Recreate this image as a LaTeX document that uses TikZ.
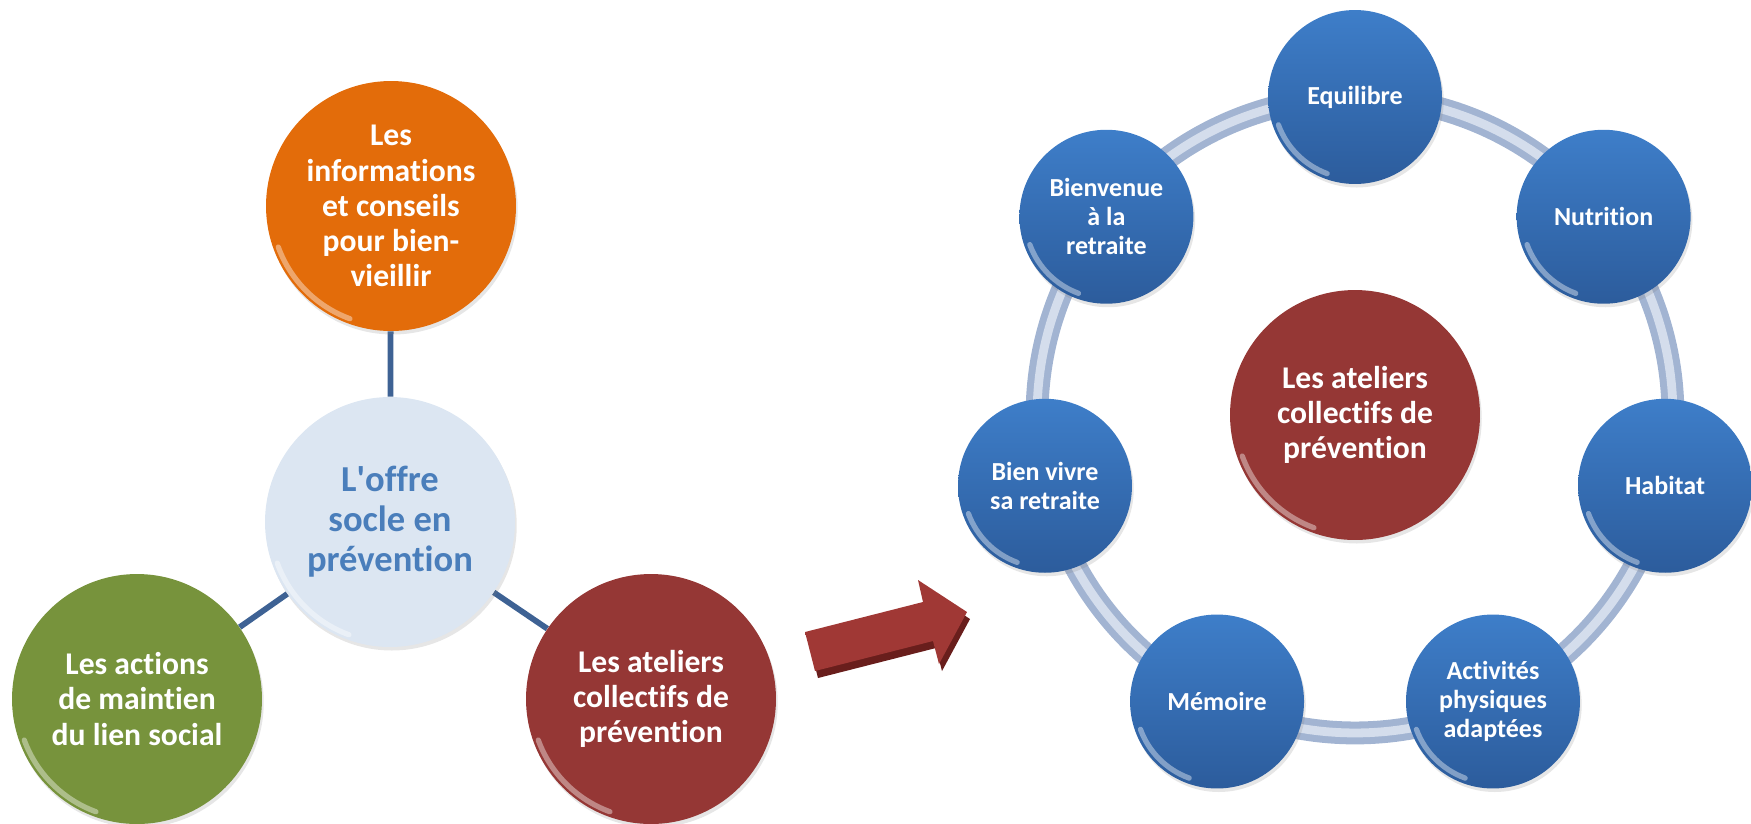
\documentclass[tikz,border=0pt]{standalone}
\usepackage{fontspec}
\setmainfont{Carlito}[Ligatures={NoCommon}]
\usetikzlibrary{calc, backgrounds, shadows}

\definecolor{orangeInfo}{RGB}{227,108,10}
\definecolor{vertLien}{RGB}{119,147,60}
\definecolor{rougeAtelier}{RGB}{149,55,53}
\definecolor{fondSocle}{RGB}{220,230,242}
\definecolor{texteSocle}{RGB}{74,126,187}
\definecolor{bleuLien}{RGB}{62,98,148}
\definecolor{bleuHaut}{RGB}{62,126,201}
\definecolor{bleuBas}{RGB}{44,92,156}
\definecolor{anneauFonce}{RGB}{162,180,210}
\definecolor{anneauClair}{RGB}{212,221,236}
\definecolor{flecheClair}{RGB}{196,86,82}
\definecolor{flecheFonce}{RGB}{160,56,53}
\definecolor{flecheOmbre}{RGB}{105,30,28}

\begin{document}
\begin{tikzpicture}[
    x=0.02cm, y=-0.02cm, % 1 unite = 1 pixel, y vers le bas
    every node/.style={align=center, text=white},
    bulle/.style={circle, minimum size=5cm, inner sep=0pt,
        font=\fontsize{18}{20}\selectfont\bfseries,
        drop shadow={opacity=0.2, shadow xshift=1pt, shadow yshift=-2pt}}, % grands cercles
    socle/.style={bulle, fill=fondSocle, text=texteSocle,
        font=\fontsize{20.8}{22.8}\selectfont\bfseries},
    theme/.style={circle, minimum size=3.48cm, inner sep=0pt,
        top color=bleuHaut, bottom color=bleuBas,
        font=\fontsize{14.8}{16.5}\selectfont\bfseries,
        drop shadow={opacity=0.2, shadow xshift=1pt, shadow yshift=-2pt}}, % ateliers bleus
    lien/.style={bleuLien, line width=3.3pt},
    anneau/.style={anneauFonce, line width=13pt},
    anneaureflet/.style={anneauClair, line width=5pt},
    reflet/.style={white, opacity=0.4, line width=3pt, line cap=round}
]
    \useasboundingbox (0,0) rectangle (1751,823);

    % 1. Offre socle (partie gauche)
    \node[socle] (offre) at (390,522) {L\textquotesingle offre\\socle en\\prévention};
    \node[bulle, fill=orangeInfo] (infos) at (391,206) {Les\\informations\\et conseils\\pour bien-\\vieillir};
    \node[bulle, fill=vertLien] (actions) at (137,699) {Les actions\\de maintien\\du lien social};
    \node[bulle, fill=rougeAtelier] (ateliers) at (651,699) {Les ateliers\\collectifs de\\prévention};

    % liens derriere les cercles
    \begin{scope}[on background layer]
        \foreach \n in {infos, actions, ateliers} {
            \draw[lien] (offre) -- (\n);
        }
    \end{scope}

    % 2. Fleche 3D
    \begin{scope}[shift={(3,7)}]
        \fill[flecheOmbre] (805,632) -- (923,602) -- (918,580) -- (967,612) -- (939,664) -- (933,641) -- (815,671) -- cycle;
    \end{scope}
    \shade[top color=flecheFonce, middle color=flecheClair, bottom color=flecheFonce]
        (805,632) -- (923,602) -- (918,580) -- (967,612) -- (939,664) -- (933,641) -- (815,671) -- cycle;

    % 3. Anneau des ateliers (partie droite)
    \coordinate (centreAnneau) at (1355,415);
    \draw[anneau] (centreAnneau) circle[radius=6.36cm];
    \draw[anneaureflet] (centreAnneau) circle[radius=6.36cm];

    \node[bulle, fill=rougeAtelier] (centre) at (centreAnneau) {Les ateliers\\collectifs de\\prévention};

    \foreach \lab [count=\i] in {Equilibre, Nutrition, Habitat, {Activités\\physiques\\adaptées},
        Mémoire, {Bien vivre\\sa retraite}, {Bienvenue\\à la\\retraite}} {
        \node[theme] (theme\i) at ($(centreAnneau)+({-90+(\i-1)*360/7}:318)$) {\lab};
    }

    % 4. Reflets (effet biseau)
    \foreach \n in {infos, actions, ateliers, offre, centre} {
        \draw[reflet] ([shift={(200:2.4cm)}]\n.center) arc[start angle=200, end angle=250, radius=2.4cm];
    }
    \foreach \i in {1,...,7} {
        \draw[reflet] ([shift={(200:1.63cm)}]theme\i.center) arc[start angle=200, end angle=250, radius=1.63cm];
    }

\end{tikzpicture}
\end{document}
